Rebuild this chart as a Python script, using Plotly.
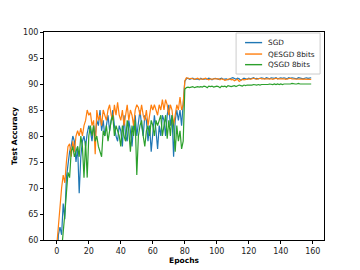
import plotly.graph_objects as go

epochs = list(range(160))

sgd = [
    55, 61, 62.5, 61, 67, 64, 72, 75, 77, 78,
    80, 79, 75, 78, 69, 76, 79, 80, 78, 80.5,
    82, 81, 79, 82, 80, 83, 82, 85, 81, 83,
    80, 82, 84, 81, 83, 85, 82, 80, 79, 82,
    81, 78, 84, 80, 79, 83, 81, 78, 82, 84,
    80, 83, 85, 82, 80, 84, 83, 79, 82, 77,
    80, 84, 81, 77.5, 82, 80, 84, 83, 80, 84,
    86, 82, 84, 76, 83, 85, 83, 85, 82, 86,
    90.5, 91.0, 91.1, 90.9, 91.0, 91.1, 90.9, 91.0, 91.0, 90.8,
    91.1, 90.9, 91.0, 91.0, 90.9, 91.1, 91.0, 90.8, 91.0, 91.1,
    91.0, 90.9, 91.0, 91.1, 90.9, 91.0, 91.0, 90.8, 91.0, 91.1,
    91.2, 91.0, 90.9, 91.1, 91.0, 90.7, 91.0, 91.1, 91.0, 90.9,
    91.1, 91.0, 91.1, 91.2, 91.0, 91.1, 91.0, 91.1, 91.2, 91.1,
    91.0, 91.2, 91.1, 91.0, 91.2, 91.1, 91.1, 91.2, 91.0, 91.1,
    91.2, 91.1, 91.2, 91.1, 91.0, 91.2, 91.1, 91.2, 91.1, 91.1,
    91.0, 91.2, 91.1, 91.1, 91.0, 91.1, 91.2, 91.1, 91.1, 91.2,
]

qesgd = [
    59, 63, 67, 70, 72.5, 71, 75, 78, 78.5, 76,
    79, 77, 80, 81, 80, 81.5, 80, 82, 83, 85,
    84, 84.5, 82, 83, 76.5, 85, 83, 84, 82, 85,
    84, 83, 85, 86, 84, 83, 86, 84, 86.5, 84,
    83, 85, 82, 84, 86, 83, 85, 84, 82, 85,
    86, 85.5, 84, 86, 84, 83, 85, 82, 84, 86,
    85, 86, 85, 84, 86, 85, 87, 85, 87, 86,
    84, 86, 85, 82, 84, 86, 85, 87.5, 85, 86,
    90.6, 91.2, 91.1, 91.0, 91.1, 91.0, 90.9, 91.0, 91.1, 90.9,
    91.0, 90.9, 91.0, 91.1, 90.9, 90.8, 91.0, 90.9, 91.0, 91.0,
    90.9, 91.0, 90.8, 91.0, 90.9, 90.7, 90.8, 90.9, 91.0, 90.8,
    90.9, 90.6, 90.8, 90.9, 90.5, 90.8, 90.9, 90.8, 90.9, 91.0,
    91.0, 90.9, 91.0, 91.1, 91.0, 90.9, 91.0, 91.1, 91.0, 91.0,
    91.1, 91.0, 91.0, 91.1, 91.0, 90.9, 91.0, 91.1, 91.0, 91.0,
    91.0, 91.1, 91.0, 90.9, 91.0, 91.0, 91.1, 91.0, 91.0, 90.9,
    91.0, 91.0, 90.9, 91.0, 91.0, 90.9, 91.0, 90.9, 91.0, 90.9,
]

qsgd = [
    50, 52, 55, 58, 61, 65, 69, 73, 72, 77,
    78, 76, 77, 78, 76, 80, 78, 72, 79, 72,
    80, 82, 80, 82, 79, 80, 78, 77, 76, 81,
    80, 82, 79, 81, 83, 84, 80, 82, 81, 80,
    78, 82, 80, 79, 83, 81, 77, 82, 80, 83,
    72.5, 80, 82, 83, 80, 78, 81, 82, 80, 83,
    82, 80, 83, 82, 83, 84, 80, 82, 84, 79.5,
    83, 80, 84, 82, 77, 82, 79, 81, 77.5, 79,
    89.0, 89.3, 89.4, 89.3, 89.4, 89.5, 89.3, 89.4, 89.5, 89.4,
    89.5, 89.4, 89.6, 89.5, 89.3, 89.6, 89.5, 89.6, 89.4, 89.5,
    89.6, 89.5, 89.3, 89.6, 89.5, 89.6, 89.4, 89.7, 89.6, 89.5,
    89.6, 89.7, 89.5, 89.6, 89.8, 89.7, 89.6, 89.8, 89.7, 89.8,
    89.8, 89.7, 89.8, 89.9, 89.8, 89.8, 89.9, 89.8, 89.9, 89.9,
    89.8, 89.9, 89.9, 90.0, 89.9, 89.9, 90.0, 89.9, 90.0, 89.9,
    90.0, 89.9, 90.0, 90.0, 89.9, 90.0, 90.0, 90.1, 90.0, 90.0,
    90.0, 90.1, 90.0, 90.0, 90.0, 90.1, 90.0, 90.0, 90.1, 90.0,
]

names = ["SGD", "QESGD 8bits", "QSGD 8bits"]
colors = ["#1f77b4", "#ff7f0e", "#2ca02c"]
values = [sgd, qesgd, qsgd]

fig = go.Figure()
for name, vals, color in zip(names, values, colors):
    fig.add_trace(go.Scatter(x=epochs, y=vals, mode="lines", name=name,
                             line=dict(color=color, width=1.2), showlegend=False))

axis_common = dict(showline=True, linecolor="black", linewidth=1, mirror=True,
                   ticks="outside", ticklen=3, tickcolor="black", tickwidth=0.8,
                   showgrid=False, zeroline=False, automargin=False,
                   tickfont=dict(family="DejaVu Sans", size=8, color="#222"))

# manual legend (matplotlib-like compact spacing)
shapes = [dict(type="rect", xref="paper", yref="paper", x0=0.686, x1=0.986,
               y0=0.798, y1=0.995, line=dict(color="#cccccc", width=1),
               fillcolor="rgba(255,255,255,0.8)", layer="above")]
annotations = []
leg_y = [0.949, 0.894, 0.843]
for name, color, ly in zip(names, colors, leg_y):
    shapes.append(dict(type="line", xref="paper", yref="paper", x0=0.718, x1=0.779,
                       y0=ly, y1=ly, line=dict(color=color, width=1.4), layer="above"))
    annotations.append(dict(xref="paper", yref="paper", x=0.793, y=ly, text=name,
                            showarrow=False, xanchor="left", yanchor="middle",
                            font=dict(family="DejaVu Sans", size=7.3, color="#222")))

# the page body has an 8px margin, so the figure is sized/margined to compensate
fig.update_layout(
    width=352, height=262,
    margin=dict(l=36, r=36, t=24, b=30),
    paper_bgcolor="white", plot_bgcolor="white",
    font=dict(family="DejaVu Sans", size=7, color="black"),
    xaxis=dict(range=[-8, 167], tickvals=list(range(0, 161, 20)),
               title=dict(text="<b>Epochs</b>", font=dict(size=7.5), standoff=2),
               **axis_common),
    yaxis=dict(range=[60, 100], tickvals=list(range(60, 101, 5)),
               title=dict(text="<b>Test Accuracy</b>", font=dict(size=7.5), standoff=4),
               **axis_common),
    shapes=shapes,
    annotations=annotations,
    showlegend=False,
)

fig.write_html("out.html")
